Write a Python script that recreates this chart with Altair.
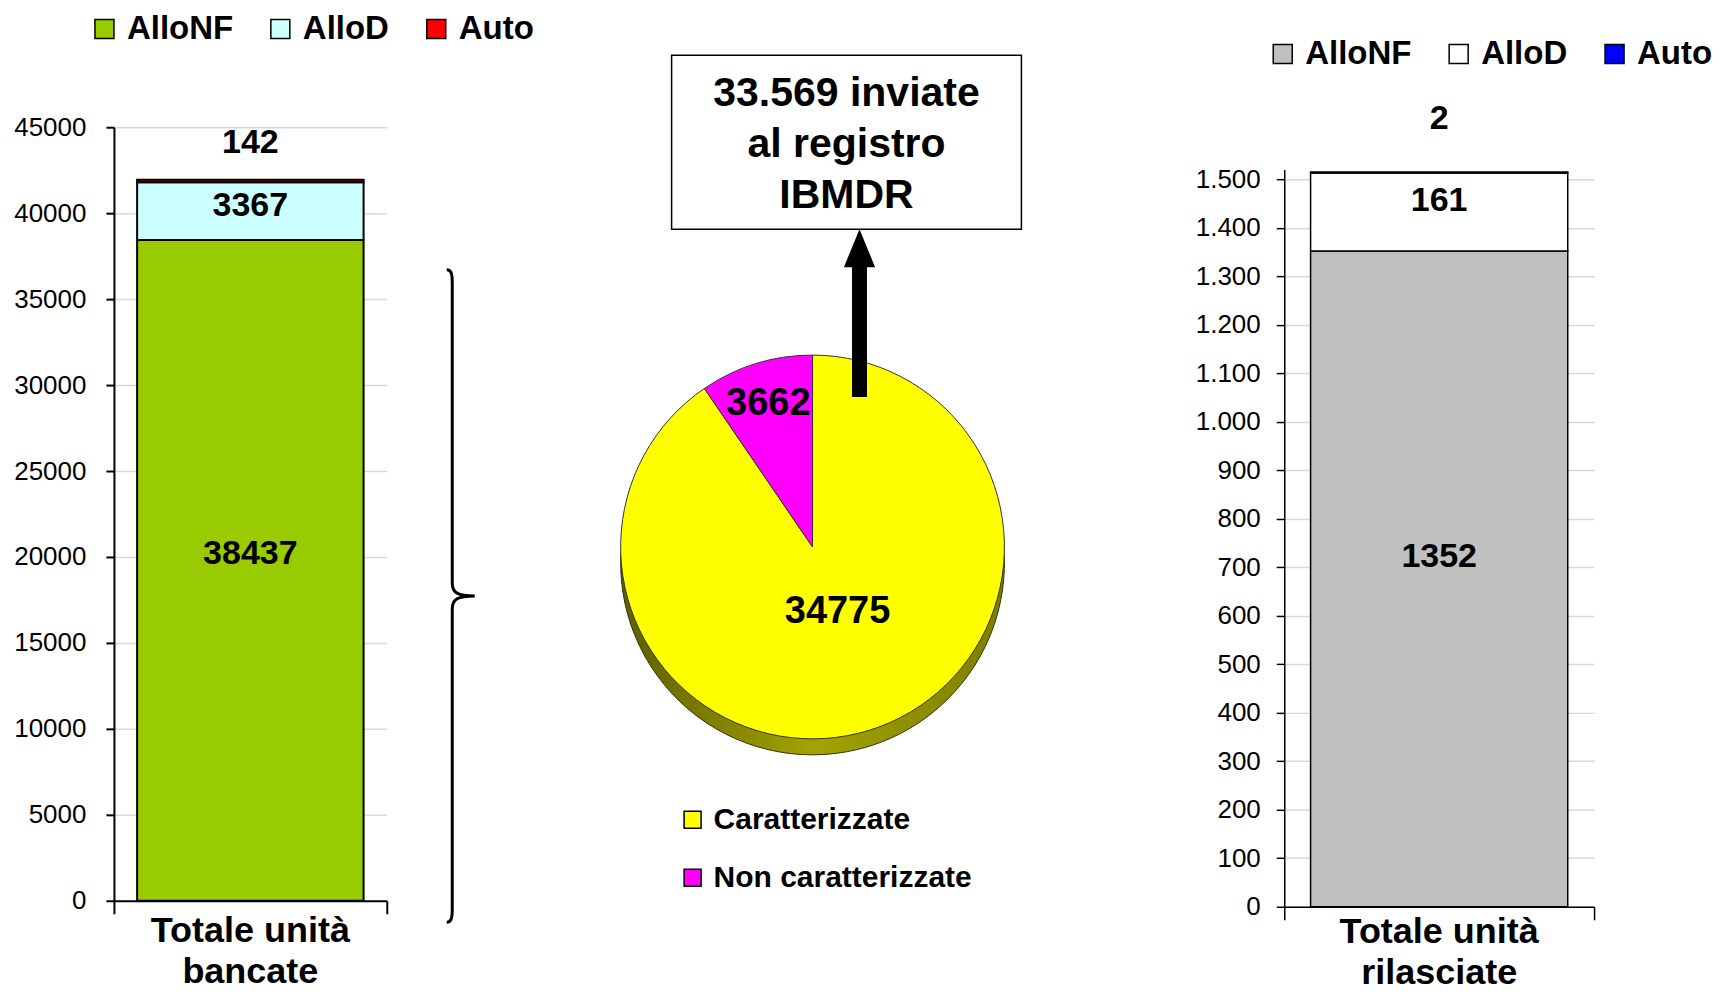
import altair as alt
import pandas as pd

FONT = "Liberation Sans"

# ---------------- data ----------------
series = ["AlloNF", "AlloD", "Auto"]
banked_values = [38437, 3367, 142]
released_values = [1352, 161, 2]
banked_colors = ["#99CC00", "#CCFFFF", "#FF0000"]
released_colors = ["#C0C0C0", "#FFFFFF", "#0000FF"]
banked_title = ["Totale unità", "bancate"]
released_title = ["Totale unità", "rilasciate"]
left_ticks = list(range(0, 45001, 5000))
right_ticks = list(range(0, 1501, 100))

pie_categories = ["Caratterizzate", "Non caratterizzate"]
pie_values = [34775, 3662]
pie_colors = ["#FFFF00", "#FF00FF"]
callout_lines = ["33.569 inviate", "al registro", "IBMDR"]

H = 960  # view height of each panel


def bar_df(cat, vals):
    rows, cum = [], 0
    for i, (s, v) in enumerate(zip(series, vals)):
        rows.append(dict(cat=cat, series=s, value=v, ord=i,
                         mid=cum + v / 2, top=cum + v, label=str(v)))
        cum += v
    return pd.DataFrame(rows)


def bar_layers(df, colors, title_lines, width, y_domain, y_range, ticks,
               baseline, stroke_w, label_pad, legend_x, legend_y,
               seg_dy, top_dy, title_y, title_lh, label_expr=None,
               label_format=None):
    yaxis_kw = dict(values=ticks, title=None, grid=True, gridColor="#D9D9D9",
                    gridWidth=1.5, domainColor="black", domainWidth=stroke_w,
                    tickColor="black", tickWidth=stroke_w, tickSize=8,
                    labelFont=FONT, labelFontSize=26, labelColor="black",
                    labelPadding=label_pad, labelOverlap=False, labelFlush=False)
    if label_expr:
        yaxis_kw["labelExpr"] = label_expr
    if label_format:
        yaxis_kw["format"] = label_format
    yaxis = alt.Axis(**yaxis_kw)
    yscale = alt.Scale(domain=y_domain, range=y_range, nice=False, zero=True)
    xenc = alt.X("cat:N", scale=alt.Scale(paddingInner=0, paddingOuter=0),
                 axis=alt.Axis(labels=False, title=None, tickBand="extent",
                               tickSize=13, tickColor="black", tickWidth=stroke_w,
                               domainColor="black", domainWidth=stroke_w,
                               offset=baseline - H, grid=False))
    base = alt.Chart(df)
    bars = base.mark_bar(width={"band": 0.83}, stroke="black",
                         strokeWidth=stroke_w).encode(
        x=xenc,
        y=alt.Y("value:Q", stack="zero", scale=yscale, axis=yaxis),
        color=alt.Color("series:N", scale=alt.Scale(domain=series, range=colors),
                        legend=alt.Legend(orient="none", legendX=legend_x,
                                          legendY=legend_y, direction="horizontal",
                                          title=None, symbolType="square",
                                          symbolSize=361, symbolStrokeColor="black",
                                          symbolStrokeWidth=1.5, symbolOpacity=1,
                                          labelFont=FONT, labelFontSize=33,
                                          labelFontWeight="bold", labelColor="black",
                                          columnPadding=30, labelOffset=6,
                                          padding=0, labelLimit=300)),
        order=alt.Order("ord:Q"),
    )
    txt = dict(font=FONT, fontSize=34, fontWeight="bold", color="black",
               baseline="middle")
    layers = [bars]
    # segment labels inside the bar (one layer per segment, own vertical nudge)
    for s, dy in zip(series[:2], seg_dy):
        layers.append(base.transform_filter(alt.datum.series == s).mark_text(
            dy=dy, **txt).encode(
            x=xenc, y=alt.Y("mid:Q", scale=yscale, axis=yaxis), text="label:N"))
    # the thin top segment is labelled above the bar
    layers.append(base.transform_filter(alt.datum.series == series[2]).mark_text(
        dy=top_dy, **txt).encode(
        x=xenc, y=alt.Y("top:Q", scale=yscale, axis=yaxis), text="label:N"))
    layers.append(alt.Chart(pd.DataFrame({"k": [0]})).mark_text(
        font=FONT, fontSize=36, fontWeight="bold", color="black",
        baseline="alphabetic", align="center", lineHeight=title_lh).encode(
        x=alt.value(width / 2), y=alt.value(title_y),
        text=alt.value(title_lines)))
    return layers


# ---------------- left panel: banked units + pie + annotations ----------------
W_LEFT = 273
left_layers = bar_layers(
    bar_df("bancate", banked_values), banked_colors, banked_title,
    width=W_LEFT, y_domain=[0, 45000], y_range=[893, 119], ticks=left_ticks,
    baseline=893, stroke_w=2, label_pad=20, legend_x=-26, legend_y=4,
    seg_dy=[-16, -5], top_dy=-37, title_y=934, title_lh=41, label_format="d")

total = sum(pie_values)
pie_df = pd.DataFrame({"cat": pie_categories, "value": pie_values,
                       "ord": list(range(len(pie_values))),
                       "label": [str(v) for v in pie_values]})
decor_df = pd.DataFrame({"k": [0]})

CX, CY, R = 699, 539, 192
theta_scale = alt.Scale(domain=[0, total], range=[0, 6.283185307179586])

depth = alt.Chart(pie_df).mark_arc(
    radius=R,
    color=alt.Gradient(gradient="linear", x1=0, x2=1, y1=0, y2=0,
                       stops=[alt.GradientStop(color="#5e5e00", offset=0),
                              alt.GradientStop(color="#a3a300", offset=0.5),
                              alt.GradientStop(color="#7d7d00", offset=1)]),
    stroke="#333300", strokeWidth=1).encode(
    theta=alt.Theta("value:Q", stack=True, scale=theta_scale),
    order=alt.Order("ord:Q"),
    x=alt.value(CX), y=alt.value(CY + 16))

face = alt.Chart(pie_df).mark_arc(radius=R, stroke="#333333",
                                  strokeWidth=1).encode(
    theta=alt.Theta("value:Q", stack=True, scale=theta_scale),
    color=alt.Color("cat:N", scale=alt.Scale(domain=pie_categories, range=pie_colors),
                    legend=alt.Legend(orient="none", legendX=564, legendY=797,
                                      direction="vertical", title=None,
                                      symbolType="square", symbolSize=289,
                                      symbolStrokeColor="black", symbolStrokeWidth=1.5,
                                      symbolOpacity=1, labelFont=FONT,
                                      labelFontSize=30, labelFontWeight="bold",
                                      labelColor="black", rowPadding=28,
                                      labelOffset=6, padding=0, labelLimit=400)),
    order=alt.Order("ord:Q"),
    x=alt.value(CX), y=alt.value(CY))

pie_lab_base = alt.Chart(pie_df).transform_stack(
    stack="value", groupby=[], as_=["t0", "t1"],
    sort=[alt.SortField("ord", order="ascending")]
).transform_calculate(tm="(datum.t0 + datum.t1) / 2")

ptxt = dict(font=FONT, fontSize=38, fontWeight="bold", color="black",
            baseline="middle")
lab_big = pie_lab_base.transform_filter(alt.datum.ord == 0).mark_text(
    radius=68, **ptxt).encode(
    theta=alt.Theta("tm:Q", scale=theta_scale), text="label:N",
    x=alt.value(CX + 5), y=alt.value(CY))
lab_small = pie_lab_base.transform_filter(alt.datum.ord == 1).mark_text(
    radius=150, **ptxt).encode(
    theta=alt.Theta("tm:Q", scale=theta_scale), text="label:N",
    x=alt.value(CX), y=alt.value(CY))

box = alt.Chart(decor_df).mark_rect(fill="white", stroke="black",
                                    strokeWidth=1.5).encode(
    x=alt.value(558), x2=alt.value(908), y=alt.value(47), y2=alt.value(221))
box_text = alt.Chart(decor_df).mark_text(
    font=FONT, fontSize=41, fontWeight="bold", color="black",
    baseline="middle", align="center", lineHeight=51).encode(
    x=alt.value(733), y=alt.value(86), text=alt.value(callout_lines))

shaft = alt.Chart(decor_df).mark_rule(color="black", strokeWidth=15).encode(
    x=alt.value(746), y=alt.value(389), y2=alt.value(255))
head = alt.Chart(decor_df).mark_point(
    shape="M0,-1L0.82,1L-0.82,1Z", size=1444, filled=True, color="black",
    opacity=1).encode(x=alt.value(746), y=alt.value(240))

brace_path = ("M-0.043,-1 C-0.030,-1 -0.026,-0.99 -0.026,-0.96 L-0.026,-0.04 "
              "C-0.026,-0.01 -0.01,0 0.043,0 C-0.01,0 -0.026,0.01 -0.026,0.04 "
              "L-0.026,0.96 C-0.026,0.99 -0.030,1 -0.043,1")
brace = alt.Chart(decor_df).mark_point(
    shape=brace_path, size=653 * 653, filled=False, stroke="black",
    strokeWidth=3, opacity=1).encode(x=alt.value(347), y=alt.value(588))

left = alt.layer(*left_layers, brace, depth, face, lab_big, lab_small, box,
                 box_text, shaft, head).resolve_scale(
    color="independent").resolve_legend(color="independent").properties(
    width=W_LEFT, height=H)

# ---------------- right panel: released units ----------------
W_RIGHT = 310
right_layers = bar_layers(
    bar_df("rilasciate", released_values), released_colors, released_title,
    width=W_RIGHT, y_domain=[0, 1520], y_range=[899, 899 - 1520 * 728 / 1500],
    ticks=right_ticks, baseline=899, stroke_w=1.5, label_pad=16,
    legend_x=-18, legend_y=29, seg_dy=[-22, -11], top_dy=-53, title_y=935,
    title_lh=41,
    label_expr="datum.value >= 1000 ? replace(format(datum.value, ','), ',', '.') : datum.label")
right = alt.layer(*right_layers).properties(width=W_RIGHT, height=H)

chart = alt.hconcat(left, right, spacing=172).resolve_scale(
    color="independent").resolve_legend(color="independent").properties(
    padding={"left": 5, "top": 0, "right": 0, "bottom": 0}
).configure(font=FONT).configure_view(stroke="transparent", strokeWidth=0)

chart.save("out.html", embed_options={"renderer": "svg", "actions": False})
